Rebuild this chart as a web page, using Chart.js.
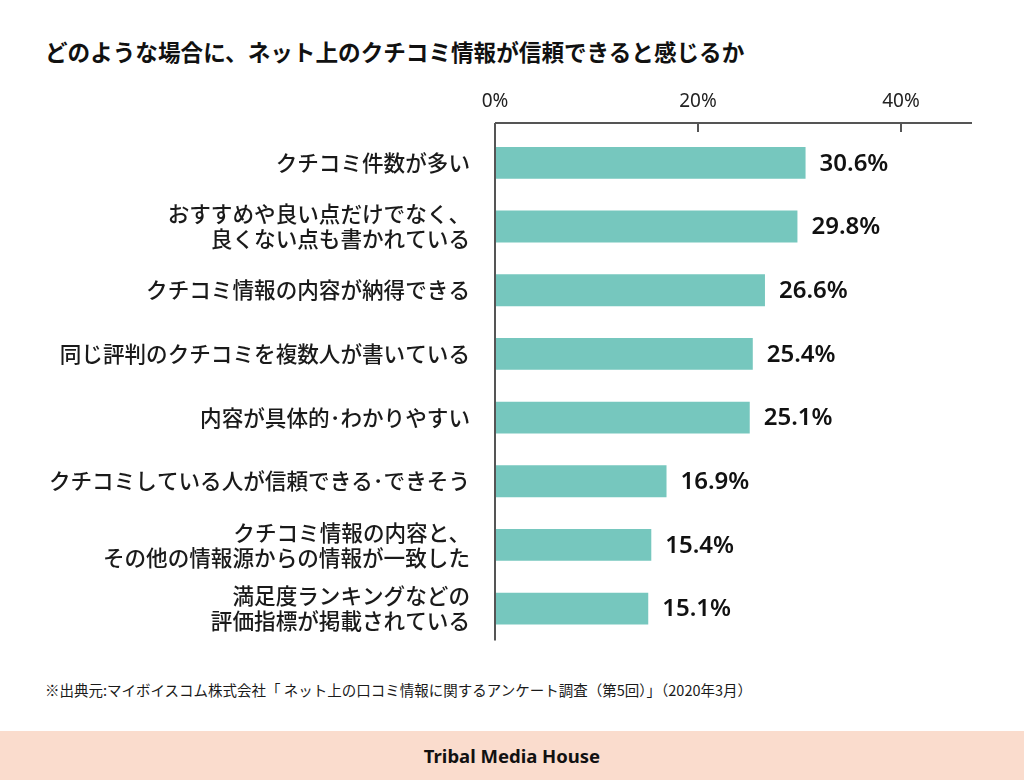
<!DOCTYPE html>
<html>
<head>
<meta charset="utf-8">
<script src="https://cdn.jsdelivr.net/npm/chart.js@4"></script>
<style>
body{margin:0;width:1024px;height:780px;position:relative;background:#fff;overflow:hidden;
  font-family:"Noto Sans CJK JP","Noto Sans",sans-serif;color:#1a1a1a}
#title{position:absolute;left:45px;top:35px;font-size:22.6px;font-weight:700;white-space:nowrap;color:#111}
#box{position:absolute;left:0;top:0;width:1024px;height:678px}
#note{position:absolute;left:45px;top:679px;font-size:14.5px;white-space:nowrap}
#foot{position:absolute;left:0;top:731px;width:1024px;height:49px;background:#fadccd;
  text-align:center;font:bold 18.5px "Noto Sans",sans-serif;line-height:50px;color:#111}
</style>
</head>
<body>
<div id="title">どのような場合に、ネット上のクチコミ情報が信頼できると感じるか</div>
<div id="box"><canvas id="chart" width="1024" height="678"></canvas></div>
<div id="note">※出典元:マイボイスコム株式会社「 ネット上の口コミ情報に関するアンケート調査（第5回）」（2020年3月）</div>
<div id="foot">Tribal Media House</div>
<script>
// DATA
const categories=[
  ["クチコミ件数が多い"],
  ["おすすめや良い点だけでなく、","良くない点も書かれている"],
  ["クチコミ情報の内容が納得できる"],
  ["同じ評判のクチコミを複数人が書いている"],
  ["内容が具体的･わかりやすい"],
  ["クチコミしている人が信頼できる･できそう"],
  ["クチコミ情報の内容と、","その他の情報源からの情報が一致した"],
  ["満足度ランキングなどの","評価指標が掲載されている"]
];
const values=[30.6,29.8,26.6,25.4,25.1,16.9,15.4,15.1];
const axisMax=47;
const tickStep=20;

// AXIS LINES (top line with inward ticks + left line)
const axisLines={
  id:"axisLines",
  afterDraw(chart){
    const {ctx,chartArea:a,scales:{x}}=chart;
    const top=a.top-8;
    ctx.save();
    ctx.strokeStyle="#555";
    ctx.lineWidth=2;
    ctx.beginPath();
    ctx.moveTo(a.left,top);ctx.lineTo(a.right,top);
    ctx.moveTo(a.left,top);ctx.lineTo(a.left,a.bottom);
    x.ticks.forEach(t=>{
      if(t.value===0) return;
      const px=Math.round(x.getPixelForValue(t.value));
      ctx.moveTo(px,top);ctx.lineTo(px,top+9);
    });
    ctx.stroke();
    ctx.restore();
  }
};

// VALUE LABELS
const valueLabels={
  id:"valueLabels",
  afterDatasetsDraw(chart){
    const {ctx}=chart;
    ctx.save();
    ctx.font="600 24px 'Noto Sans', sans-serif";
    ctx.fillStyle="#111";
    ctx.textBaseline="middle";
    chart.getDatasetMeta(0).data.forEach((bar,i)=>{
      ctx.fillText(values[i].toFixed(1)+"%",bar.x+14,bar.y+1);
    });
    ctx.restore();
  }
};

new Chart(document.getElementById("chart"),{
  type:"bar",
  data:{
    labels:categories,
    datasets:[{data:values,backgroundColor:"#76c7be",categoryPercentage:1,barPercentage:0.5}]
  },
  options:{
    indexAxis:"y",
    responsive:false,
    animation:false,
    layout:{padding:{top:80,left:0,right:52,bottom:21}},
    plugins:{legend:{display:false},tooltip:{enabled:false}},
    scales:{
      x:{
        position:"top",min:0,max:axisMax,
        grid:{display:false,drawTicks:false},
        border:{display:false},
        afterBuildTicks:s=>{s.ticks=s.ticks.filter(t=>t.value%tickStep===0);},
        afterFit:s=>{s.height=51;},
        ticks:{stepSize:tickStep,padding:18,color:"#222",
          font:{family:"'Noto Sans', sans-serif",size:19},
          callback:v=>v+"%"}
      },
      y:{
        grid:{display:false,drawTicks:false},
        border:{display:false},
        afterFit:s=>{s.width=495;},
        ticks:{padding:25,color:"#1a1a1a",
          font:{family:"'Noto Sans CJK JP', sans-serif",size:21.6,weight:"500",lineHeight:1.16}}
      }
    }
  },
  plugins:[axisLines,valueLabels]
});
</script>
</body>
</html>
